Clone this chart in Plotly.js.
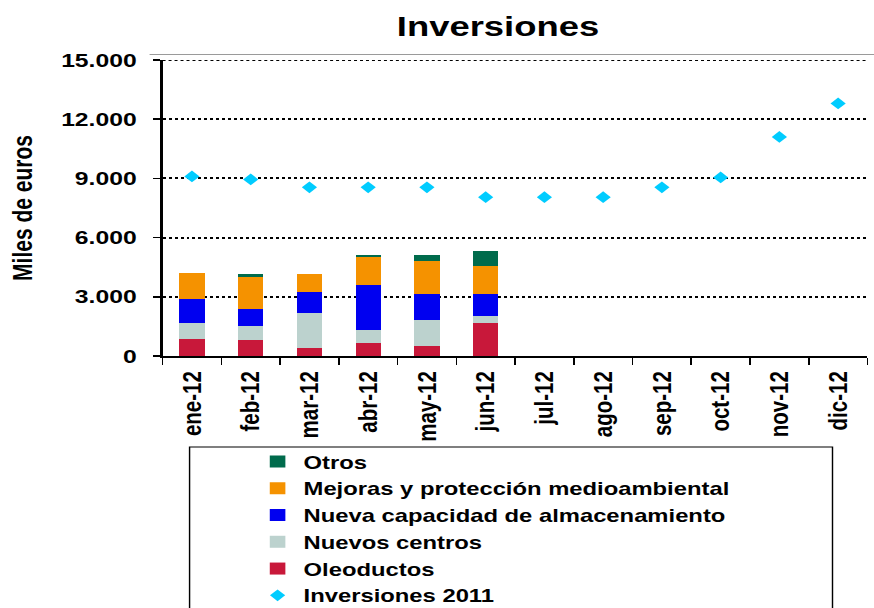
<!DOCTYPE html>
<html>
<head>
<meta charset="utf-8">
<script src="https://cdn.plot.ly/plotly-3.0.1.min.js"></script>
<style>
html,body{margin:0;padding:0;background:#fff;overflow:hidden;width:874px;height:608px;}
#chart{width:672px;height:608px;transform-origin:0 0;transform:scaleX(1.300595);}
</style>
</head>
<body>
<div id="chart"></div>
<script>
const months = ['ene-12','feb-12','mar-12','abr-12','may-12','jun-12','jul-12','ago-12','sep-12','oct-12','nov-12','dic-12'];
const monthsWithData = ['ene-12','feb-12','mar-12','abr-12','may-12','jun-12'];
const oleoductos = [860, 810, 400, 660, 510, 1670];
const nuevosCentros = [810, 710, 1780, 660, 1320, 360];
const nuevaCapacidad = [1220, 860, 1060, 2280, 1320, 1110];
const mejoras = [1320, 1620, 910, 1420, 1670, 1420];
const otros = [0, 150, 0, 100, 300, 760];
const inversiones2011 = [9100, 8950, 8550, 8550, 8550, 8050, 8050, 8050, 8550, 9050, 11100, 12800];
const yMax = 15000;

const barSeries = [
  {name: 'Oleoductos', y: oleoductos, color: '#C8183A', rank: 5},
  {name: 'Nuevos centros', y: nuevosCentros, color: '#BCD2CE', rank: 4},
  {name: 'Nueva capacidad de almacenamiento', y: nuevaCapacidad, color: '#0000F0', rank: 3},
  {name: 'Mejoras y protección medioambiental', y: mejoras, color: '#F59200', rank: 2},
  {name: 'Otros', y: otros, color: '#006B4C', rank: 1}
];

const traces = barSeries.map(s => ({
  type: 'bar', x: monthsWithData, y: s.y, name: s.name,
  marker: {color: s.color, line: {width: 0}},
  legendrank: s.rank, legendgroup: s.name, hoverinfo: 'x+y+name'
}));
traces.push({
  type: 'scatter', mode: 'markers', x: months, y: inversiones2011, name: 'Inversiones 2011',
  marker: {symbol: 'diamond', size: 9, color: '#00CCFF'},
  legendrank: 6, legendgroup: 'Inversiones 2011'
});

// The chart is drawn 672px wide and stretched horizontally to 874px (like the reference).
const S = 874 / 672;
const L = 163 / S, R = 868 / S;               // plot area in unstretched px
const px = p => (p / S - L) / (R - L);       // reference pixel x -> paper x
const py = q => (356 - q) / 296;             // reference pixel y -> paper y

const arial = 'Liberation Sans, Arial, sans-serif';

const layout = {
  width: 672, height: 608,
  margin: {l: L, r: 672 - R, t: 60, b: 252, autoexpand: false},
  paper_bgcolor: '#ffffff', plot_bgcolor: '#ffffff',
  barmode: 'stack', bargap: 0.57,
  separators: ',.',
  showlegend: true,
  title: {
    text: 'Inversiones',
    font: {family: arial, size: 28, color: '#000', weight: 'bold'},
    x: 498 / 874, xref: 'container', xanchor: 'center',
    y: 1 - 26 / 608, yref: 'container', yanchor: 'middle'
  },
  xaxis: {
    type: 'category', categoryorder: 'array', categoryarray: months,
    range: [-0.5, 11.5], automargin: false,
    showline: true, linecolor: '#000', linewidth: 2,
    ticks: 'outside', tickson: 'boundaries', ticklen: 7, tickwidth: 1.2, tickcolor: '#000',
    tickangle: -90,
    tickfont: {family: arial, size: 20.5, color: '#000', weight: 'bold'},
    ticklabelstandoff: 5,
    showgrid: false, zeroline: false, fixedrange: true
  },
  yaxis: {
    range: [0, yMax], dtick: 3000, tick0: 0, tickformat: ',d', automargin: false,
    showline: true, linecolor: '#000', linewidth: 1.6,
    ticks: 'outside', ticklen: 5.5, tickwidth: 1.5, tickcolor: '#000',
    tickfont: {family: arial, size: 19, color: '#000', weight: 'bold'},
    ticklabelstandoff: 9,
    showgrid: true, gridcolor: '#000', gridwidth: 2, griddash: '2.3px,2.3px',
    zeroline: false, fixedrange: true,
    title: {
      text: 'Miles de euros',
      font: {family: arial, size: 21, color: '#000', weight: 'bold'},
      standoff: 16
    }
  },
  legend: {
    x: px(252), y: py(443), xanchor: 'left', yanchor: 'top',
    bgcolor: 'rgba(0,0,0,0)', borderwidth: 0,
    traceorder: 'grouped', tracegroupgap: 0,
    font: {family: arial, size: 18.3, color: '#000', weight: 'bold'},
    itemwidth: 30
  },
  shapes: [
    {
      type: 'rect', xref: 'paper', yref: 'paper',
      x0: px(190), x1: px(833), y0: py(447), y1: py(640),
      line: {color: '#000', width: 1.1}, fillcolor: 'rgba(0,0,0,0)', layer: 'below'
    },
    {
      type: 'line', xref: 'paper', yref: 'y', x0: 0, x1: 1, y0: yMax, y1: yMax,
      line: {color: '#000', width: 2, dash: '2.3px,2.3px'}, layer: 'below'
    },
    {
      type: 'line', xref: 'paper', yref: 'paper', x0: px(150), x1: 1.01, y0: py(54.5), y1: py(54.5),
      line: {color: '#9a9a9a', width: 1}, layer: 'below'
    }
  ]
};

Plotly.newPlot('chart', traces, layout, {displayModeBar: false, staticPlot: true});
</script>
</body>
</html>
